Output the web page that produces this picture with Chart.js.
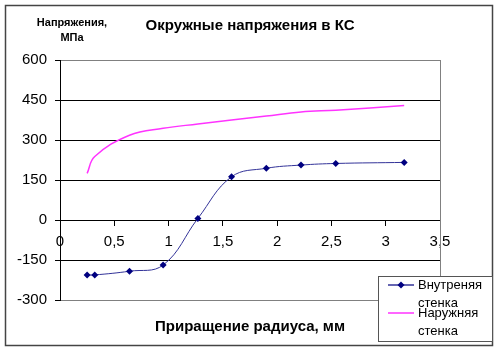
<!DOCTYPE html>
<html>
<head>
<meta charset="utf-8">
<script src="https://cdn.jsdelivr.net/npm/chart.js@4"></script>
<style>
    html, body { margin: 0; padding: 0; background: #fff; }
    #wrap { position: relative; width: 498px; height: 351px; }
</style>
</head>
<body>
<div id="wrap"><canvas id="chart" width="498" height="351"></canvas></div>
<script>
// ── Data ──
const radiusInc = [0.25, 0.32, 0.64, 0.95, 1.27, 1.58, 1.90, 2.22, 2.54, 3.17];
const innerWall = [-206, -206, -192, -169, 6, 162, 194, 206, 212, 216];
const outerWall = [175, 238, 318, 344, 360, 375, 390, 405, 412, 429];
const yTicks = [-300, -150, 0, 150, 300, 450, 600];
const xTickLabels = ['0', '0,5', '1', '1,5', '2', '2,5', '3', '3,5'];

const seriesNames = [['Внутреняя', 'стенка'], ['Наружняя', 'стенка']];
const chartTitle = 'Окружные напряжения в КС';
const yTitle = ['Напряжения,', 'МПа'];
const xTitle = 'Приращение радиуса, мм';

const FONT = "'Liberation Sans', Arial, sans-serif";
const INNER_LINE = '#333399';
const OUTER_LINE = '#ff33ff';
Chart.defaults.font.family = FONT;
Chart.defaults.color = '#000';

const toPts = ys => radiusInc.map((x, i) => ({ x, y: ys[i] }));

// ── Decorations: frame, titles, right border, legend ──
const decor = {
    id: 'decor',
    beforeDraw(chart) {
        const c = chart.ctx;
        c.save();
        c.fillStyle = '#fff';
        c.fillRect(0, 0, chart.width, chart.height);
        c.restore();
    },
    afterDraw(chart) {
        const c = chart.ctx;
        const a = chart.chartArea;
        c.save();

        // plot area right edge
        c.strokeStyle = '#808080';
        c.lineWidth = 1;
        c.beginPath();
        c.moveTo(Math.round(a.right) + 0.5, a.top);
        c.lineTo(Math.round(a.right) + 0.5, a.bottom);
        c.stroke();

        // outer frame
        c.strokeStyle = '#444';
        c.lineWidth = 1.5;
        c.strokeRect(5.5, 5.5, 487, 340);

        // titles
        c.fillStyle = '#000';
        c.textAlign = 'center';
        c.textBaseline = 'middle';
        c.font = 'bold 15px ' + FONT;
        c.fillText(chartTitle, 250, 26);
        c.fillText(xTitle, 250, 327);
        c.font = 'bold 11px ' + FONT;
        c.fillText(yTitle[0], 72, 23);
        c.fillText(yTitle[1], 72, 38);

        // legend
        const lx = 378, ly = 276, lw = 114, lh = 65;
        c.fillStyle = '#fff';
        c.fillRect(lx, ly, lw, lh);
        c.strokeStyle = '#555';
        c.lineWidth = 1;
        c.strokeRect(lx + 0.5, ly + 0.5, lw, lh);

        const rows = [285, 313];
        const cols = [INNER_LINE, OUTER_LINE];
        rows.forEach((ry, i) => {
            c.strokeStyle = cols[i];
            c.lineWidth = 1.5;
            c.beginPath();
            c.moveTo(388, ry);
            c.lineTo(414, ry);
            c.stroke();
            if (i === 0) {
                c.fillStyle = '#000080';
                c.beginPath();
                c.moveTo(401, ry - 3.5);
                c.lineTo(404.5, ry);
                c.lineTo(401, ry + 3.5);
                c.lineTo(397.5, ry);
                c.closePath();
                c.fill();
            }
            c.fillStyle = '#000';
            c.textAlign = 'left';
            c.font = '13px ' + FONT;
            c.fillText(seriesNames[i][0], 418, ry);
            c.fillText(seriesNames[i][1], 418, ry + 18);
        });

        c.restore();
    }
};

new Chart(document.getElementById('chart'), {
    type: 'line',
    data: {
        datasets: [{
            label: seriesNames[0].join(' '),
            data: toPts(innerWall),
            borderColor: INNER_LINE,
            borderWidth: 1,
            tension: 0.4,
            pointStyle: 'rectRot',
            pointRadius: 3.5,
            pointBackgroundColor: '#000080',
            pointBorderColor: '#000080',
            pointBorderWidth: 0,
            fill: false,
        }, {
            label: seriesNames[1].join(' '),
            data: toPts(outerWall),
            borderColor: OUTER_LINE,
            borderWidth: 1.5,
            tension: 0.4,
            pointRadius: 0,
            fill: false,
        }]
    },
    options: {
        responsive: false,
        animation: false,
        layout: { padding: { left: 5, top: 60, right: 58, bottom: 51 } },
        plugins: {
            legend: { display: false },
            tooltip: { enabled: false }
        },
        scales: {
            x: {
                type: 'linear',
                position: { y: 0 },
                min: 0,
                max: 3.5,
                grid: {
                    drawOnChartArea: false,
                    drawTicks: true,
                    tickLength: 5,
                    tickColor: '#000'
                },
                border: { color: '#000', width: 1 },
                ticks: {
                    stepSize: 0.5,
                    padding: 8,
                    maxRotation: 0,
                    font: { size: 15 },
                    callback: (v, i) => xTickLabels[i]
                }
            },
            y: {
                min: -300,
                max: 600,
                afterFit: s => { s.width = 55; },
                afterBuildTicks: s => { s.ticks = yTicks.map(v => ({ value: v })); },
                grid: {
                    color: ctx => (ctx.tick && (ctx.tick.value === 600 || ctx.tick.value === -300)) ? '#808080' : '#000',
                    tickLength: 5,
                    tickColor: '#000'
                },
                border: { color: '#000', width: 1 },
                ticks: {
                    padding: 8,
                    font: { size: 15 }
                }
            }
        }
    },
    plugins: [decor]
});
</script>
</body>
</html>
